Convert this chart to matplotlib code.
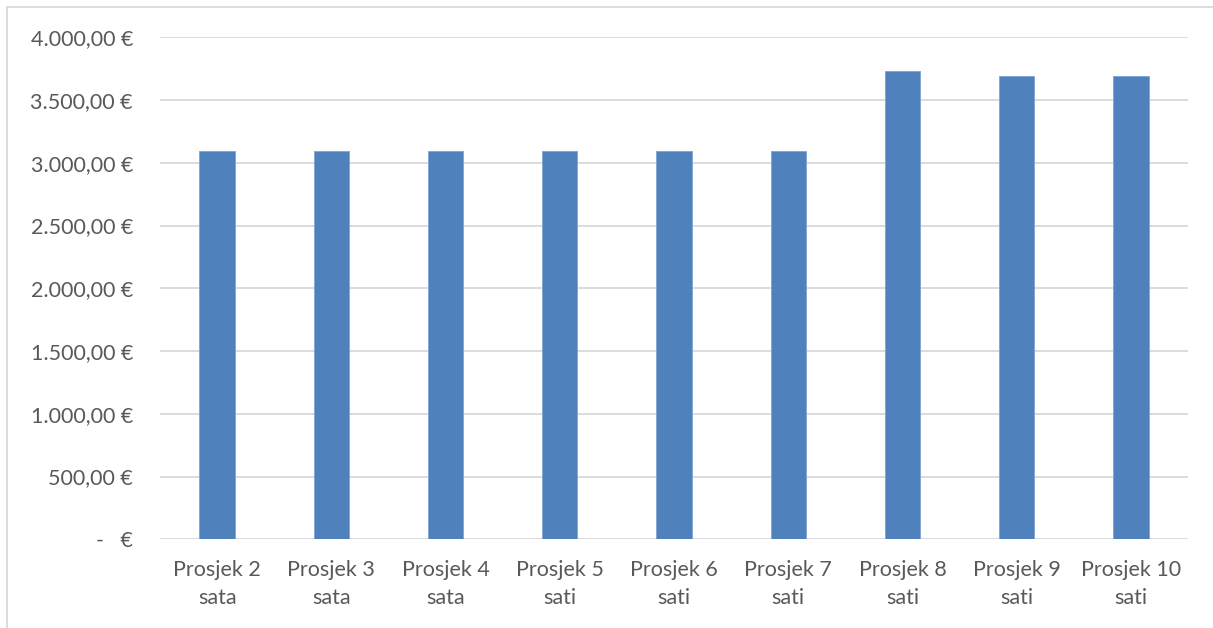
import matplotlib.pyplot as plt
from matplotlib.lines import Line2D

# data
categories = ["Prosjek 2\nsata", "Prosjek 3\nsata", "Prosjek 4\nsata",
              "Prosjek 5\nsati", "Prosjek 6\nsati", "Prosjek 7\nsati",
              "Prosjek 8\nsati", "Prosjek 9\nsati", "Prosjek 10\nsati"]
values = [3095, 3095, 3095, 3095, 3095, 3095, 3730, 3695, 3695]
yticks = [0, 500, 1000, 1500, 2000, 2500, 3000, 3500, 4000]
ytick_labels = ["-   €", "500,00 €", "1.000,00 €", "1.500,00 €", "2.000,00 €",
                "2.500,00 €", "3.000,00 €", "3.500,00 €", "4.000,00 €"]

plt.rcParams['font.family'] = ['Lato', 'DejaVu Sans']
text_col = '#595959'

fig = plt.figure(figsize=(12.13, 6.28), dpi=100)
ax = fig.add_axes([160 / 1213, 1 - 539.3 / 628, (1188 - 160) / 1213, (539.3 - 37.3) / 628])

x = list(range(len(categories)))
ax.bar(x, values, width=0.31, color='#4f81bd', edgecolor='#7ea3d3', linewidth=0.6, zorder=3)

ax.set_xlim(-0.5, len(categories) - 0.5)
ax.set_ylim(0, 4000)
ax.set_yticks(yticks)
ax.set_yticklabels(ytick_labels)
ax.set_xticks(x)
ax.set_xticklabels(categories, linespacing=1.5)

ax.grid(axis='y', color='#d9d9d9', linewidth=1.3, zorder=0)
for s in ax.spines.values():
    s.set_visible(False)
ax.tick_params(axis='both', length=0, colors=text_col, labelsize=15.5)
ax.tick_params(axis='y', pad=19.5)
ax.tick_params(axis='x', pad=15)

# outer chart border (only top and left visible in the crop)
fig.add_artist(Line2D([7 / 1213, 7 / 1213], [0, 1 - 7 / 628], transform=fig.transFigure,
                      color='#d9d9d9', linewidth=1.3))
fig.add_artist(Line2D([7 / 1213, 1], [1 - 7 / 628, 1 - 7 / 628], transform=fig.transFigure,
                      color='#d9d9d9', linewidth=1.3))

fig.savefig('out.png', dpi=100)
